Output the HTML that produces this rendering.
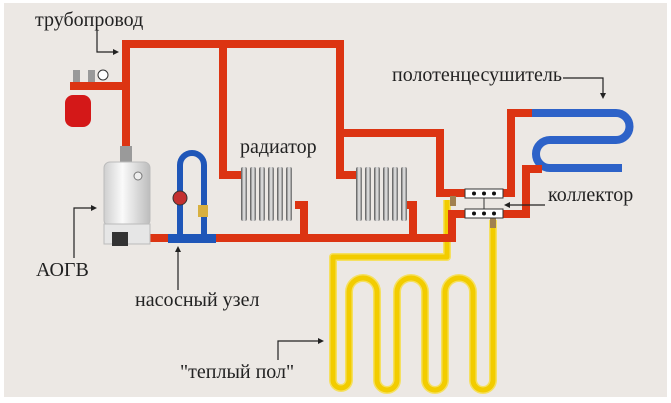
<!DOCTYPE html>
<html><head><meta charset="utf-8"><style>
html,body{margin:0;padding:0;background:#fff}
svg{display:block}
text{font-family:"Liberation Serif","DejaVu Serif",serif;font-size:20px;fill:#222}
</style></head><body>
<svg width="671" height="403" viewBox="0 0 671 403" xmlns="http://www.w3.org/2000/svg">
<defs>
<linearGradient id="rad" x1="0" x2="1"><stop offset="0" stop-color="#555"/><stop offset="0.5" stop-color="#eee"/><stop offset="1" stop-color="#666"/></linearGradient>
<linearGradient id="boil" x1="0" x2="1"><stop offset="0" stop-color="#cfcfcf"/><stop offset="0.4" stop-color="#fafafa"/><stop offset="1" stop-color="#bdbdbd"/></linearGradient>
</defs>
<rect x="0" y="0" width="671" height="403" fill="#fff"/>
<rect x="4" y="3" width="663" height="394" fill="#ece8e4"/>
<!-- yellow floor loop -->
<g fill="none" stroke-linejoin="round">
<path id="yl" d="M447 200 V257 H333 V380 a8 8 0 0 0 16 0 V292 a14 14 0 0 1 28 0 V380 a10 10 0 0 0 20 0 V292 a14 14 0 0 1 28 0 V380 a10 10 0 0 0 20 0 V292 a14 14 0 0 1 28 0 V380 a10 10 0 0 0 20 0 V238 H493 V220" stroke="#f5e060" stroke-width="8"/>
<path d="M447 200 V257 H333 V380 a8 8 0 0 0 16 0 V292 a14 14 0 0 1 28 0 V380 a10 10 0 0 0 20 0 V292 a14 14 0 0 1 28 0 V380 a10 10 0 0 0 20 0 V292 a14 14 0 0 1 28 0 V380 a10 10 0 0 0 20 0 V238 H493 V220" stroke="#f2cc00" stroke-width="5"/>
</g>
<!-- blue towel dryer -->
<path d="M531 113 H616 a13.5 13.5 0 0 1 0 27 H550 a14 14 0 0 0 0 28 H622" fill="none" stroke="#2d62c8" stroke-width="8"/>
<!-- red pipes -->
<g fill="none" stroke="#dc3412" stroke-width="8" stroke-linejoin="miter">
<path d="M126 150 V44 H340 V133 H440 V193 H465"/>
<path d="M70 86 H126"/>
<path d="M223 44 V175 H242"/>
<path d="M340 130 V175 H357"/>
<path d="M503 193 H511 V113 H532"/>
<path d="M503 214 H526 V169 H542"/>
<path d="M150 238 H452 V214 H466"/>
<path d="M295 205 H304 V238"/>
<path d="M404 205 H413 V238"/>
</g>
<rect x="450" y="196" width="6" height="10" fill="#a08050"/>
<rect x="490" y="218" width="6" height="10" fill="#a08050"/>
<!-- collector -->
<g fill="#fff" stroke="#333" stroke-width="1">
<rect x="465" y="189" width="38" height="9"/><rect x="465" y="209" width="38" height="9"/>
<line x1="484" y1="198" x2="484" y2="209"/>
</g>
<g fill="#111"><circle cx="474" cy="193.5" r="2"/><circle cx="484" cy="193.5" r="2"/><circle cx="494" cy="193.5" r="2"/><circle cx="474" cy="213.5" r="2"/><circle cx="484" cy="213.5" r="2"/><circle cx="494" cy="213.5" r="2"/></g>
<!-- radiators -->
<g fill="url(#rad)">
<rect x="241" y="167" width="6" height="54" rx="2"/><rect x="250" y="167" width="6" height="54" rx="2"/><rect x="259" y="167" width="6" height="54" rx="2"/><rect x="268" y="167" width="6" height="54" rx="2"/><rect x="277" y="167" width="6" height="54" rx="2"/><rect x="286" y="167" width="6" height="54" rx="2"/>
<rect x="356" y="167" width="6" height="54" rx="2"/><rect x="365" y="167" width="6" height="54" rx="2"/><rect x="374" y="167" width="6" height="54" rx="2"/><rect x="383" y="167" width="6" height="54" rx="2"/><rect x="392" y="167" width="6" height="54" rx="2"/><rect x="401" y="167" width="6" height="54" rx="2"/>
</g>
<!-- tank & gauges -->
<rect x="65" y="95" width="26" height="32" rx="8" fill="#d41818"/>
<rect x="73" y="70" width="7" height="12" fill="#999"/><rect x="88" y="70" width="7" height="12" fill="#999"/>
<circle cx="103" cy="75" r="5" fill="#fff" stroke="#333"/>
<!-- boiler -->
<rect x="120" y="146" width="12" height="18" fill="#9a9a9a"/>
<rect x="104" y="162" width="46" height="64" rx="6" fill="url(#boil)" stroke="#bbb"/>
<rect x="104" y="224" width="46" height="20" fill="#e6e6e6" stroke="#bbb"/>
<rect x="112" y="232" width="16" height="14" fill="#333"/>
<circle cx="138" cy="176" r="4" fill="#eee" stroke="#777"/>
<!-- pump group -->
<path d="M180 238 V165 a12 12 0 0 1 24 0 V238" fill="none" stroke="#1f56b8" stroke-width="6"/>
<rect x="168" y="234" width="48" height="9" fill="#1f56b8"/>
<circle cx="180" cy="198" r="7" fill="#c43030" stroke="#333"/>
<rect x="198" y="205" width="10" height="12" fill="#d8b040"/>
<!-- labels -->
<text x="35" y="26">трубопровод</text>
<text x="240" y="153">радиатор</text>
<text x="392" y="81">полотенцесушитель</text>
<text x="548" y="201">коллектор</text>
<text x="36" y="276">АОГВ</text>
<text x="135" y="306">насосный узел</text>
<text x="180" y="378">"теплый пол"</text>
<!-- leaders -->
<g fill="none" stroke="#222" stroke-width="1.2">
<path d="M97 30 V52 H115"/><path d="M563 78 H603 V95"/><path d="M545 205 H508"/>
<path d="M74 258 V208 H93"/><path d="M178 290 V250"/><path d="M278 360 V341 H320"/>
</g>
<g fill="#222">
<path d="M119 52 l-6 -3 v6z"/><path d="M603 99 l-3 -6 h6z"/><path d="M504 205 l6 -3 v6z"/>
<path d="M97 208 l-6 -3 v6z"/><path d="M178 246 l-3 6 h6z"/><path d="M324 341 l-6 -3 v6z"/>
</g>
</svg>
</body></html>
